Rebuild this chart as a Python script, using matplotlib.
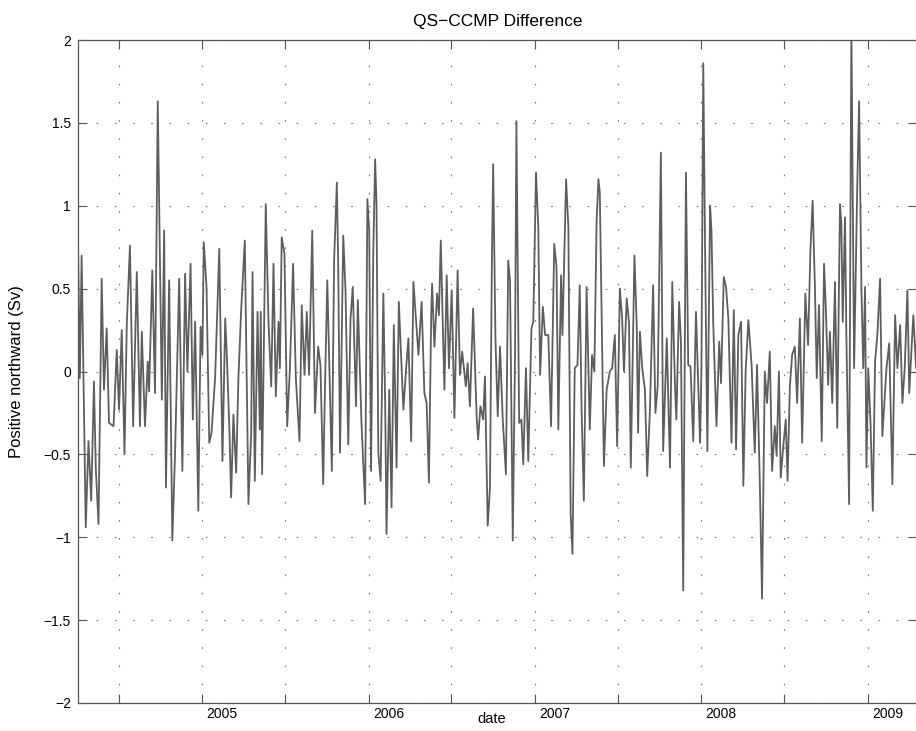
"""QS-CCMP transport difference time series, MATLAB-style figure."""
import numpy as np
import matplotlib
matplotlib.use("Agg")
import matplotlib.pyplot as plt
import matplotlib.dates as mdates
from matplotlib.ticker import FixedLocator, FixedFormatter
from matplotlib.transforms import ScaledTranslation

plt.rcParams["font.family"] = ["Liberation Sans", "DejaVu Sans"]

# ---------------------------------------------------------------------------
# Data
# ---------------------------------------------------------------------------
START = "2004-04-03"
END = "2009-04-18"

# days since START
day_offset = [
    0, 4, 8, 17, 23, 29, 35, 39, 45, 52, 57, 63, 68, 78, 85, 90, 96, 102, 107,
    114, 121, 129, 136, 140, 147, 153, 156, 163, 169, 175,
    184, 189, 193, 200, 207, 213, 222, 229, 235, 240, 247, 252, 257, 264, 269,
    273, 276, 282, 288, 293, 301, 310, 317, 323, 326, 332, 336, 341, 347, 352,
    358, 366,
    374, 380, 383, 388, 394, 399, 401, 404, 412, 418, 424, 429, 434, 440, 443,
    447, 453, 459, 465, 472, 478, 486, 491, 497, 502, 507, 514, 520, 527, 532,
    538, 542, 547,
    557, 562, 568, 571, 575, 582, 587, 593, 598, 603, 610, 614, 622, 630, 635,
    639, 643, 648, 652, 655, 659, 664, 670, 674, 677, 683, 688, 693, 699, 704,
    714, 720, 725, 731, 736,
    747, 754, 760, 765, 770, 775, 777, 782, 788, 792, 796, 804, 809, 814, 820,
    826, 833, 838, 843, 851, 855, 860, 867, 875, 878, 883, 889, 893, 899, 904,
    908, 911, 916, 921, 926,
    932, 939, 944, 948, 954, 959, 962, 968, 973, 977, 983, 988, 995, 999, 1005,
    1010, 1014, 1020, 1025, 1032, 1038, 1045, 1050, 1054, 1060, 1063, 1071,
    1076, 1081, 1085, 1090, 1096, 1101, 1105, 1110, 1116,
    1123, 1128, 1133, 1138, 1142, 1145, 1154, 1160, 1167, 1172, 1178, 1183,
    1189, 1194, 1198, 1204, 1209, 1213, 1221, 1226, 1229, 1233, 1238, 1244,
    1249, 1255, 1262, 1267, 1272, 1279, 1284, 1292, 1299, 1304,
    1310, 1313, 1319, 1323, 1328, 1334, 1339, 1344, 1350, 1356, 1361, 1365,
    1368, 1372, 1376, 1381, 1387, 1390, 1394, 1401, 1407, 1411, 1417, 1422,
    1427, 1434, 1439, 1444, 1449, 1455, 1460, 1465, 1471, 1478, 1485, 1490,
    1496, 1501, 1507, 1512, 1518, 1523, 1529, 1533, 1538, 1542, 1547, 1553,
    1557, 1562, 1567, 1573, 1578, 1584, 1589, 1596, 1602, 1607, 1612, 1617,
    1621, 1626, 1632, 1637, 1641, 1646, 1650, 1655, 1661, 1666, 1672, 1675,
    1678, 1683, 1686, 1692, 1697, 1703, 1710, 1714, 1719, 1723, 1727, 1730,
    1734, 1739, 1744, 1749, 1754, 1760, 1765, 1769, 1774, 1780, 1787, 1793,
    1798, 1804, 1809, 1814, 1820, 1824, 1829, 1833, 1839, 1842,
]

# transport difference (Sv), positive northward
transport_diff = [
    0.77, -0.04, 0.70, -0.94, -0.42, -0.78, -0.06, -0.58, -0.92, 0.56, -0.11,
    0.26, -0.31, -0.33, 0.13, -0.23, 0.25, -0.50, 0.28, 0.76, -0.33, 0.60,
    -0.33, 0.24, -0.33, 0.06, -0.12, 0.61, -0.13, 1.63,
    -0.17, 0.85, -0.70, 0.55, -1.02, -0.49, 0.56, -0.60, 0.59, 0.00, 0.65,
    -0.29, 0.30, -0.84, 0.27, 0.10, 0.78, 0.51, -0.43, -0.37, -0.03, 0.74,
    -0.54, 0.32, 0.14, -0.33, -0.76, -0.26, -0.61, -0.04, 0.37, 0.79,
    -0.80, -0.37, 0.60, -0.66, 0.36, -0.35, 0.36, -0.62, 1.01, 0.30, -0.09,
    0.65, -0.15, 0.30, 0.02, 0.81, 0.71, -0.33, 0.02, 0.65, -0.04, -0.42,
    0.40, -0.02, 0.36, -0.02, 0.85, -0.25, 0.15, 0.04, -0.68, -0.09, 0.55,
    -0.60, 0.67, 1.14, 0.63, -0.49, 0.82, 0.49, -0.44, 0.32, 0.51, -0.21,
    0.43, -0.31, -0.80, 1.04, 0.85, -0.60, 0.73, 1.28, 1.01, -0.49, -0.66,
    0.47, -0.19, -0.98, -0.11, -0.82, 0.28, -0.58, 0.42, -0.23, 0.02, 0.20,
    -0.42, 0.54,
    0.10, 0.42, -0.13, -0.19, -0.67, 0.34, 0.53, 0.15, 0.47, 0.34, 0.79,
    -0.11, 0.58, 0.02, 0.49, -0.28, 0.61, -0.02, 0.12, -0.09, 0.05, -0.21,
    0.38, -0.29, -0.41, -0.21, -0.29, -0.03, -0.93, -0.70, 0.63, 1.25, 0.20,
    -0.27, 0.15,
    -0.29, -0.62, 0.67, 0.55, -1.02, 0.12, 1.51, -0.31, -0.29, -0.56, 0.02,
    -0.54, 0.26, 0.30, 1.20, 0.87, -0.02, 0.39, 0.22, 0.22, -0.33, 0.77,
    0.63, -0.35, 0.58, 0.22, 1.16, 0.87, -0.86, -1.10, 0.02, 0.04, 0.52,
    -0.23, -0.78, 0.51,
    -0.35, 0.10, 0.00, 0.91, 1.16, 1.08, -0.57, -0.11, 0.00, 0.02, 0.22,
    -0.45, 0.50, 0.32, 0.00, 0.44, 0.30, -0.58, 0.70, 0.28, -0.37, 0.24,
    0.02, -0.11, -0.63, -0.23, 0.52, -0.25, -0.09, 1.32, -0.48, 0.20, -0.58,
    0.54,
    -0.09, -0.29, 0.42, 0.18, -1.32, 1.20, 0.04, 0.03, -0.42, 0.36, -0.07,
    -0.43, 0.02, 1.86, 0.73, -0.48, 1.00, 0.85, 0.28, -0.33, 0.18, -0.07,
    0.57, 0.51, 0.32, -0.43, 0.37, -0.47, 0.22, 0.30, -0.69, 0.00, 0.31,
    0.04, -0.49, 0.04,
    -0.66, -1.37, 0.00, -0.19, 0.12, -0.60, -0.33, -0.51, 0.00, -0.64, -0.47,
    -0.29, -0.66, -0.09, 0.10, 0.15, -0.19, 0.32, -0.43, 0.47, 0.16, 0.72,
    1.03, 0.51, -0.04, 0.40, -0.42, 0.65, 0.38, -0.08, 0.24, -0.19, 0.54,
    -0.34, 1.01, 0.89,
    0.30, 0.93, 0.22, -0.80, 2.10, 0.02, 1.14, 1.63, 0.51, 0.02, 0.51, -0.58,
    0.02, -0.31, -0.84, 0.06, 0.22, 0.56, -0.39, -0.21, 0.02, 0.17, -0.68,
    0.34, 0.02, 0.28, -0.19, 0.02, 0.49, -0.13, 0.14, 0.34, 0.02, 0.33,
]

YEARS = [2004, 2005, 2006, 2007, 2008, 2009]
Y_TICKS = [-2, -1.5, -1, -0.5, 0, 0.5, 1, 1.5, 2]

# ---------------------------------------------------------------------------
# Figure
# ---------------------------------------------------------------------------
W, H = 916, 731
fig = plt.figure(figsize=(W / 100, H / 100), dpi=100)
fig.patch.set_facecolor("white")
ax = fig.add_axes([78 / W, 28 / H, 839 / W, 663 / H])

dates = np.datetime64(START) + np.array(day_offset).astype("timedelta64[D]")
ax.plot(dates, transport_diff, color="#5e5e5e", linewidth=1.3, zorder=2)

x_lo, x_hi = np.datetime64(START), np.datetime64(END)
ax.set_xlim(x_lo, x_hi)
ax.set_ylim(-2, 2)

# Ticks: Jan 1 (labelled) and Jul 1 (unlabelled)
tick_dates, tick_labels = [], []
for yr in YEARS:
    for mon in (1, 7):
        d = np.datetime64(f"{yr}-{mon:02d}-01")
        if x_lo <= d <= x_hi:
            tick_dates.append(mdates.date2num(d))
            tick_labels.append(str(yr) if mon == 1 else "")
ax.xaxis.set_major_locator(FixedLocator(tick_dates))
ax.xaxis.set_major_formatter(FixedFormatter(tick_labels))

ax.yaxis.set_major_locator(FixedLocator(Y_TICKS))
ax.yaxis.set_major_formatter(
    FixedFormatter([f"{v:g}".replace("-", "\u2212") for v in Y_TICKS]))

ax.tick_params(direction="in", top=True, right=True, length=6.5, width=0.8,
               color="#555555", labelsize=10, labelcolor="black")
ax.tick_params(axis="x", pad=3)
ax.tick_params(axis="y", pad=5)

# year labels sit just to the right of their tick
offset = ScaledTranslation(4 / 100, 0, fig.dpi_scale_trans)
for lab in ax.get_xticklabels():
    lab.set_horizontalalignment("left")
    lab.set_transform(lab.get_transform() + offset)

for spine in ax.spines.values():
    spine.set_color("#555555")
    spine.set_linewidth(0.9)

ax.grid(True, linestyle=(0, (1.4, 14)), color="#7a7a7a", linewidth=0.85)
ax.set_axisbelow(True)

ax.set_title("QS\u2212CCMP Difference", fontsize=12.5, pad=10)
ax.set_ylabel("Positive northward (Sv)", fontsize=12)
ax.yaxis.set_label_coords(-0.064, 0.5)
ax.set_xlabel("date", fontsize=10.5)
ax.xaxis.set_label_coords(0.493, -0.013)

fig.savefig("out.png", dpi=100)
plt.close(fig)
